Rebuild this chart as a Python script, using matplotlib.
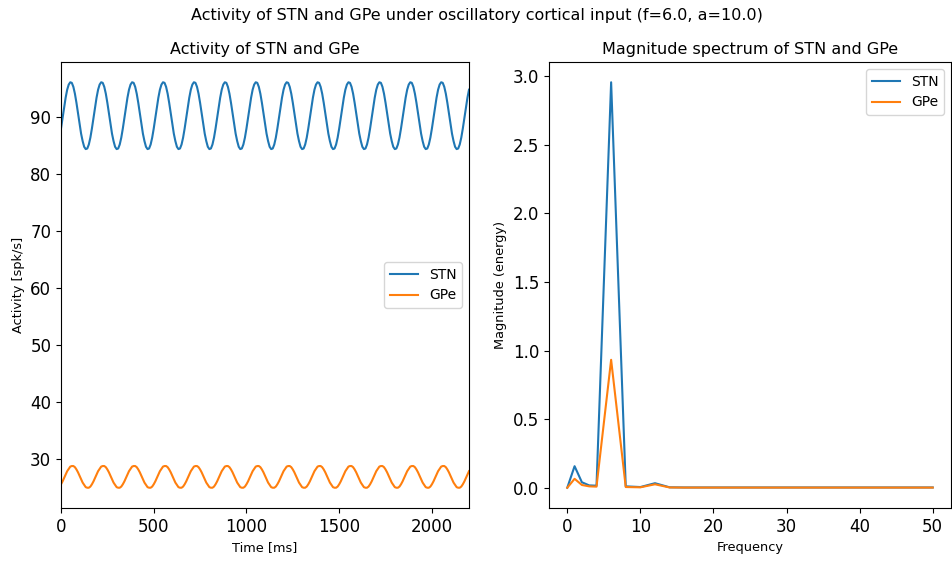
import numpy as np
import matplotlib
matplotlib.use("Agg")
import matplotlib.pyplot as plt

# firing rates, one sample every 1000/120 ms
stn_rate = [
    87.9, 89.7, 91.6, 93.3, 94.7, 95.6, 96.0, 95.9, 95.2, 94.0, 92.4, 90.6, 88.8, 87.0, 85.7, 84.7, 84.3, 84.4, 85.1, 86.3,
    87.9, 89.7, 91.6, 93.3, 94.7, 95.6, 96.0, 95.9, 95.2, 94.0, 92.4, 90.6, 88.8, 87.0, 85.7, 84.7, 84.3, 84.4, 85.1, 86.3,
    87.9, 89.7, 91.6, 93.3, 94.7, 95.6, 96.0, 95.9, 95.2, 94.0, 92.4, 90.6, 88.8, 87.0, 85.7, 84.7, 84.3, 84.4, 85.1, 86.3,
    87.9, 89.7, 91.6, 93.3, 94.7, 95.6, 96.0, 95.9, 95.2, 94.0, 92.4, 90.6, 88.8, 87.0, 85.7, 84.7, 84.3, 84.4, 85.1, 86.3,
    87.9, 89.7, 91.6, 93.3, 94.7, 95.6, 96.0, 95.9, 95.2, 94.0, 92.4, 90.6, 88.8, 87.0, 85.7, 84.7, 84.3, 84.4, 85.1, 86.3,
    87.9, 89.7, 91.6, 93.3, 94.7, 95.6, 96.0, 95.9, 95.2, 94.0, 92.4, 90.6, 88.8, 87.0, 85.7, 84.7, 84.3, 84.4, 85.1, 86.3,
    87.9, 89.7, 91.6, 93.3, 94.7, 95.6, 96.0, 95.9, 95.2, 94.0, 92.4, 90.6, 88.8, 87.0, 85.7, 84.7, 84.3, 84.4, 85.1, 86.3,
    87.9, 89.7, 91.6, 93.3, 94.7, 95.6, 96.0, 95.9, 95.2, 94.0, 92.4, 90.6, 88.8, 87.0, 85.7, 84.7, 84.3, 84.4, 85.1, 86.3,
    87.9, 89.7, 91.6, 93.3, 94.7, 95.6, 96.0, 95.9, 95.2, 94.0, 92.4, 90.6, 88.8, 87.0, 85.7, 84.7, 84.3, 84.4, 85.1, 86.3,
    87.9, 89.7, 91.6, 93.3, 94.7, 95.6, 96.0, 95.9, 95.2, 94.0, 92.4, 90.6, 88.8, 87.0, 85.7, 84.7, 84.3, 84.4, 85.1, 86.3,
    87.9, 89.7, 91.6, 93.3, 94.7, 95.6, 96.0, 95.9, 95.2, 94.0, 92.4, 90.6, 88.8, 87.0, 85.7, 84.7, 84.3, 84.4, 85.1, 86.3,
    87.9, 89.7, 91.6, 93.3, 94.7, 95.6, 96.0, 95.9, 95.2, 94.0, 92.4, 90.6, 88.8, 87.0, 85.7, 84.7, 84.3, 84.4, 85.1, 86.3,
    87.9, 89.7, 91.6, 93.3, 94.7, 95.6, 96.0, 95.9, 95.2, 94.0, 92.4, 90.6, 88.8, 87.0, 85.7, 84.7, 84.3, 84.4, 85.1, 86.3,
    87.9, 89.7, 91.6, 93.3, 94.7,
]
gpe_rate = [
    25.6, 26.1, 26.7, 27.3, 27.9, 28.3, 28.7, 28.8, 28.8, 28.6, 28.2, 27.7, 27.1, 26.5, 25.9, 25.5, 25.1, 25.0, 25.0, 25.2,
    25.6, 26.1, 26.7, 27.3, 27.9, 28.3, 28.7, 28.8, 28.8, 28.6, 28.2, 27.7, 27.1, 26.5, 25.9, 25.5, 25.1, 25.0, 25.0, 25.2,
    25.6, 26.1, 26.7, 27.3, 27.9, 28.3, 28.7, 28.8, 28.8, 28.6, 28.2, 27.7, 27.1, 26.5, 25.9, 25.5, 25.1, 25.0, 25.0, 25.2,
    25.6, 26.1, 26.7, 27.3, 27.9, 28.3, 28.7, 28.8, 28.8, 28.6, 28.2, 27.7, 27.1, 26.5, 25.9, 25.5, 25.1, 25.0, 25.0, 25.2,
    25.6, 26.1, 26.7, 27.3, 27.9, 28.3, 28.7, 28.8, 28.8, 28.6, 28.2, 27.7, 27.1, 26.5, 25.9, 25.5, 25.1, 25.0, 25.0, 25.2,
    25.6, 26.1, 26.7, 27.3, 27.9, 28.3, 28.7, 28.8, 28.8, 28.6, 28.2, 27.7, 27.1, 26.5, 25.9, 25.5, 25.1, 25.0, 25.0, 25.2,
    25.6, 26.1, 26.7, 27.3, 27.9, 28.3, 28.7, 28.8, 28.8, 28.6, 28.2, 27.7, 27.1, 26.5, 25.9, 25.5, 25.1, 25.0, 25.0, 25.2,
    25.6, 26.1, 26.7, 27.3, 27.9, 28.3, 28.7, 28.8, 28.8, 28.6, 28.2, 27.7, 27.1, 26.5, 25.9, 25.5, 25.1, 25.0, 25.0, 25.2,
    25.6, 26.1, 26.7, 27.3, 27.9, 28.3, 28.7, 28.8, 28.8, 28.6, 28.2, 27.7, 27.1, 26.5, 25.9, 25.5, 25.1, 25.0, 25.0, 25.2,
    25.6, 26.1, 26.7, 27.3, 27.9, 28.3, 28.7, 28.8, 28.8, 28.6, 28.2, 27.7, 27.1, 26.5, 25.9, 25.5, 25.1, 25.0, 25.0, 25.2,
    25.6, 26.1, 26.7, 27.3, 27.9, 28.3, 28.7, 28.8, 28.8, 28.6, 28.2, 27.7, 27.1, 26.5, 25.9, 25.5, 25.1, 25.0, 25.0, 25.2,
    25.6, 26.1, 26.7, 27.3, 27.9, 28.3, 28.7, 28.8, 28.8, 28.6, 28.2, 27.7, 27.1, 26.5, 25.9, 25.5, 25.1, 25.0, 25.0, 25.2,
    25.6, 26.1, 26.7, 27.3, 27.9, 28.3, 28.7, 28.8, 28.8, 28.6, 28.2, 27.7, 27.1, 26.5, 25.9, 25.5, 25.1, 25.0, 25.0, 25.2,
    25.6, 26.1, 26.7, 27.3, 27.9,
]
time_ms = np.arange(len(stn_rate)) * 1000.0 / 120.0

# spectrum
freqs = [0, 1, 2, 3, 4, 6, 8, 10, 12, 14, 16, 18, 20, 22, 24, 26, 28,
         30, 32, 34, 36, 38, 40, 42, 44, 46, 48, 50]
stn_mag = [0.0, 0.157, 0.04, 0.017, 0.015, 2.957, 0.01, 0.005, 0.033, 0.003,
           0.002, 0.002, 0.002, 0.002, 0.002, 0.002, 0.002, 0.002, 0.002,
           0.002, 0.002, 0.002, 0.002, 0.002, 0.002, 0.002, 0.002, 0.002]
gpe_mag = [0.0, 0.065, 0.02, 0.01, 0.008, 0.933, 0.005, 0.003, 0.025, 0.002,
           0.001, 0.001, 0.001, 0.001, 0.001, 0.001, 0.001, 0.001, 0.001,
           0.001, 0.001, 0.001, 0.001, 0.001, 0.001, 0.001, 0.001, 0.001]

fig = plt.figure(figsize=(9.53, 5.61), dpi=100)
ax1 = fig.add_axes([61/953, 1 - 508/561, 408/953, 446/561])
ax2 = fig.add_axes([549/953, 1 - 508/561, 402/953, 446/561])

ax1.plot(time_ms, stn_rate, label='STN')
ax1.plot(time_ms, gpe_rate, label='GPe')
ax1.set_xlim(0, 2200)
ax1.set_title('Activity of STN and GPe', fontsize=11.5)
ax1.set_xlabel('Time [ms]', fontsize=9.3)
ax1.set_ylabel('Activity [spk/s]', fontsize=9.3)
ax1.tick_params(labelsize=12)
ax1.legend(loc='center right', fontsize=10)

ax2.plot(freqs, stn_mag, label='STN')
ax2.plot(freqs, gpe_mag, label='GPe')
ax2.set_title('Magnitude spectrum of STN and GPe', fontsize=11.5)
ax2.set_xlabel('Frequency', fontsize=9.3)
ax2.set_ylabel('Magnitude (energy)', fontsize=9.3)
ax2.tick_params(labelsize=12)
ax2.legend(loc='upper right', fontsize=10)

fig.suptitle('Activity of STN and GPe under oscillatory cortical input (f=6.0, a=10.0)',
             fontsize=11.5, y=0.985)
fig.savefig('out.png', dpi=100)
